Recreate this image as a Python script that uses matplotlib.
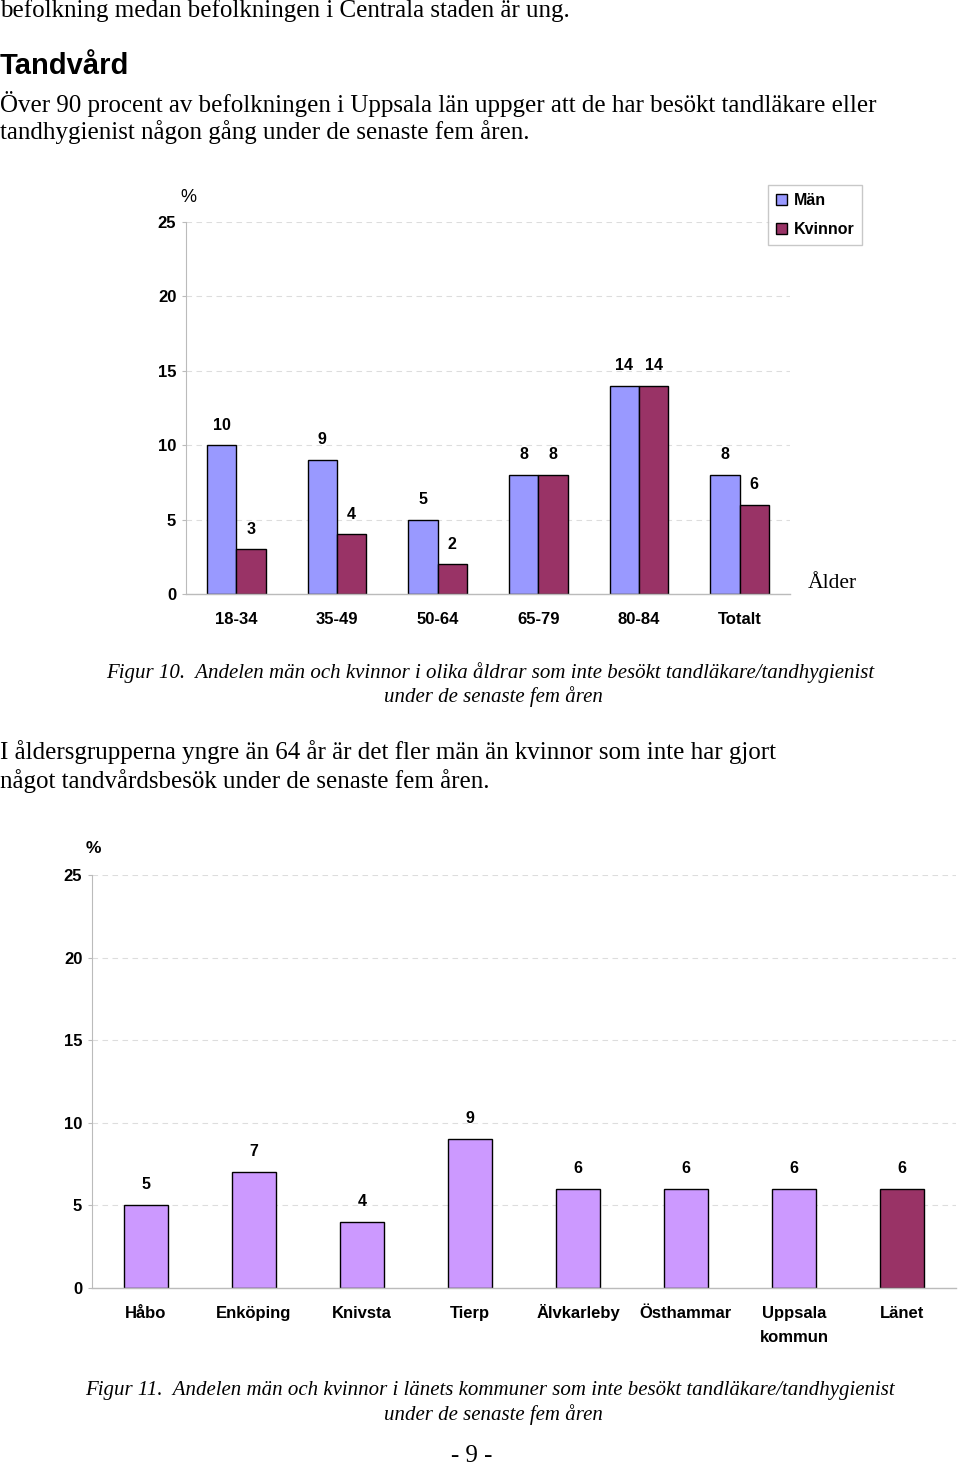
import matplotlib
matplotlib.use("Agg")
import matplotlib.pyplot as plt
from matplotlib.patches import Patch

# ---------------- data ----------------
age_groups = ["18-34", "35-49", "50-64", "65-79", "80-84", "Totalt"]
men = [10, 9, 5, 8, 14, 8]
women = [3, 4, 2, 8, 14, 6]

municipalities = ["Håbo", "Enköping", "Knivsta", "Tierp", "Älvkarleby",
                  "Östhammar", "Uppsala\nkommun", "Länet"]
muni_values = [5, 7, 4, 9, 6, 6, 6, 6]

yticks = [0, 5, 10, 15, 20, 25]

# ---------------- styling ----------------
W, H = 960, 1467
DPI = 100
C_MEN = "#9999FF"
C_WOMEN = "#993366"
C_MUNI = "#CC99FF"
SERIF = "Liberation Serif"
SANS = "Liberation Sans"
BODY = 18
CAP = 15

fig = plt.figure(figsize=(W / DPI, H / DPI), dpi=DPI)
fig.patch.set_facecolor("white")


def px(x, y):
    return x / W, 1 - y / H


def add_axes_px(x0, x1, ytop, ybot):
    return fig.add_axes([x0 / W, 1 - ybot / H, (x1 - x0) / W, (ybot - ytop) / H])


def ftext(x, y, s, **kw):
    fx, fy = px(x, y)
    fig.text(fx, fy, s, **kw)


def style_axes(ax, n):
    ax.set_ylim(0, 25)
    ax.set_xlim(-0.5, n - 0.5)
    ax.set_yticks(yticks)
    ax.set_yticklabels([str(t) for t in yticks], fontfamily=SANS,
                       fontweight="bold", fontsize=12)
    ax.tick_params(axis="y", length=3, color="#BBBBBB", pad=4)
    ax.tick_params(axis="x", length=0, pad=21.5)
    for s in ["top", "right"]:
        ax.spines[s].set_visible(False)
    ax.spines["left"].set_color("#BBBBBB")
    ax.spines["bottom"].set_color("#BBBBBB")
    ax.spines["left"].set_linewidth(0.8)
    ax.spines["bottom"].set_linewidth(1.0)
    ax.yaxis.grid(True, linestyle=(0, (5, 4)), color="#DDDDDD", linewidth=0.8)
    ax.set_axisbelow(True)
    ax.set_facecolor("none")


# ---------------- page text ----------------
ftext(0, 11, "befolkning medan befolkningen i Centrala staden är ung.",
      fontfamily=SERIF, fontsize=BODY, va="center", ha="left")
ftext(0, 66, "Tandvård", fontfamily=SANS, fontweight="bold", fontsize=21,
      va="center", ha="left")
ftext(0, 104, "Över 90 procent av befolkningen i Uppsala län uppger att de har besökt tandläkare eller",
      fontfamily=SERIF, fontsize=BODY, va="center", ha="left")
ftext(0, 132, "tandhygienist någon gång under de senaste fem åren.",
      fontfamily=SERIF, fontsize=BODY, va="center", ha="left")

# ---------------- chart 1 ----------------
ax1 = add_axes_px(186, 790, 222, 594)
style_axes(ax1, len(age_groups))
x = list(range(len(age_groups)))
bw = 0.29
b1 = ax1.bar([i - bw / 2 for i in x], men, width=bw, color=C_MEN,
             edgecolor="black", linewidth=1.0, label="Män")
b2 = ax1.bar([i + bw / 2 for i in x], women, width=bw, color=C_WOMEN,
             edgecolor="black", linewidth=1.0, label="Kvinnor")
for bars, vals in [(b1, men), (b2, women)]:
    for r, v in zip(bars, vals):
        ax1.annotate(str(v), (r.get_x() + r.get_width() / 2, v),
                     xytext=(0, 14.5), textcoords="offset points",
                     ha="center", va="center", fontfamily=SANS,
                     fontweight="bold", fontsize=11.5)
ax1.set_xticks(x)
ax1.set_xticklabels(age_groups, fontfamily=SANS, fontweight="bold",
                    fontsize=12, va="baseline")
ftext(188, 197, "%", fontfamily=SANS, fontsize=13, ha="center", va="center")
ftext(832, 583, "Ålder", fontfamily=SERIF, fontsize=15.5, ha="center", va="center")

handles = [Patch(facecolor=C_MEN, edgecolor="black", label="Män"),
           Patch(facecolor=C_WOMEN, edgecolor="black", label="Kvinnor")]
lx, ly = px(768, 185)
leg = fig.legend(handles=handles, loc="upper left", bbox_to_anchor=(lx, ly),
                 bbox_transform=fig.transFigure,
                 prop={"family": SANS, "weight": "bold", "size": 11.5},
                 frameon=True, fancybox=False, handlelength=0.7,
                 handleheight=0.7, handletextpad=0.4, borderpad=0.5,
                 labelspacing=0.9, borderaxespad=0)
leg.get_frame().set_edgecolor("#BBBBBB")
leg.get_frame().set_linewidth(1.0)

# captions
ftext(490, 673, "Figur 10.  Andelen män och kvinnor i olika åldrar som inte besökt tandläkare/tandhygienist",
      fontfamily=SERIF, fontstyle="italic", fontsize=CAP, ha="center", va="center")
ftext(493, 697, "under de senaste fem åren",
      fontfamily=SERIF, fontstyle="italic", fontsize=CAP, ha="center", va="center")

ftext(0, 752, "I åldersgrupperna yngre än 64 år är det fler män än kvinnor som inte har gjort",
      fontfamily=SERIF, fontsize=BODY, va="center", ha="left")
ftext(0, 781, "något tandvårdsbesök under de senaste fem åren.",
      fontfamily=SERIF, fontsize=BODY, va="center", ha="left")

# ---------------- chart 2 ----------------
ax2 = add_axes_px(92, 956, 875, 1288)
style_axes(ax2, len(municipalities))
x2 = list(range(len(municipalities)))
colors2 = [C_MUNI] * (len(municipalities) - 1) + [C_WOMEN]
b3 = ax2.bar(x2, muni_values, width=0.41, color=colors2,
             edgecolor="black", linewidth=1.0)
for r, v in zip(b3, muni_values):
    ax2.annotate(str(v), (r.get_x() + r.get_width() / 2, v),
                 xytext=(0, 15), textcoords="offset points",
                 ha="center", va="center", fontfamily=SANS,
                 fontweight="bold", fontsize=11.5)
ax2.set_xticks(x2)
labels2 = ax2.set_xticklabels(municipalities, fontfamily=SANS, fontweight="bold",
                              fontsize=12, linespacing=1.7, va="baseline")
# multi-line labels: align first line's baseline with the others
ax_h_px = 1288 - 875
for lab in labels2:
    if "\n" in lab.get_text():
        lab.set_va("top")
        lab.set_y(11.5 / ax_h_px)
ftext(93, 848, "%", fontfamily=SANS, fontweight="bold", fontsize=12.5,
      ha="center", va="center")

ftext(490, 1391, "Figur 11.  Andelen män och kvinnor i länets kommuner som inte besökt tandläkare/tandhygienist",
      fontfamily=SERIF, fontstyle="italic", fontsize=CAP, ha="center", va="center")
ftext(493, 1415, "under de senaste fem åren",
      fontfamily=SERIF, fontstyle="italic", fontsize=CAP, ha="center", va="center")
ftext(472, 1456, "- 9 -", fontfamily=SERIF, fontsize=BODY, ha="center", va="center")

fig.savefig("out.png", dpi=DPI, facecolor="white")
